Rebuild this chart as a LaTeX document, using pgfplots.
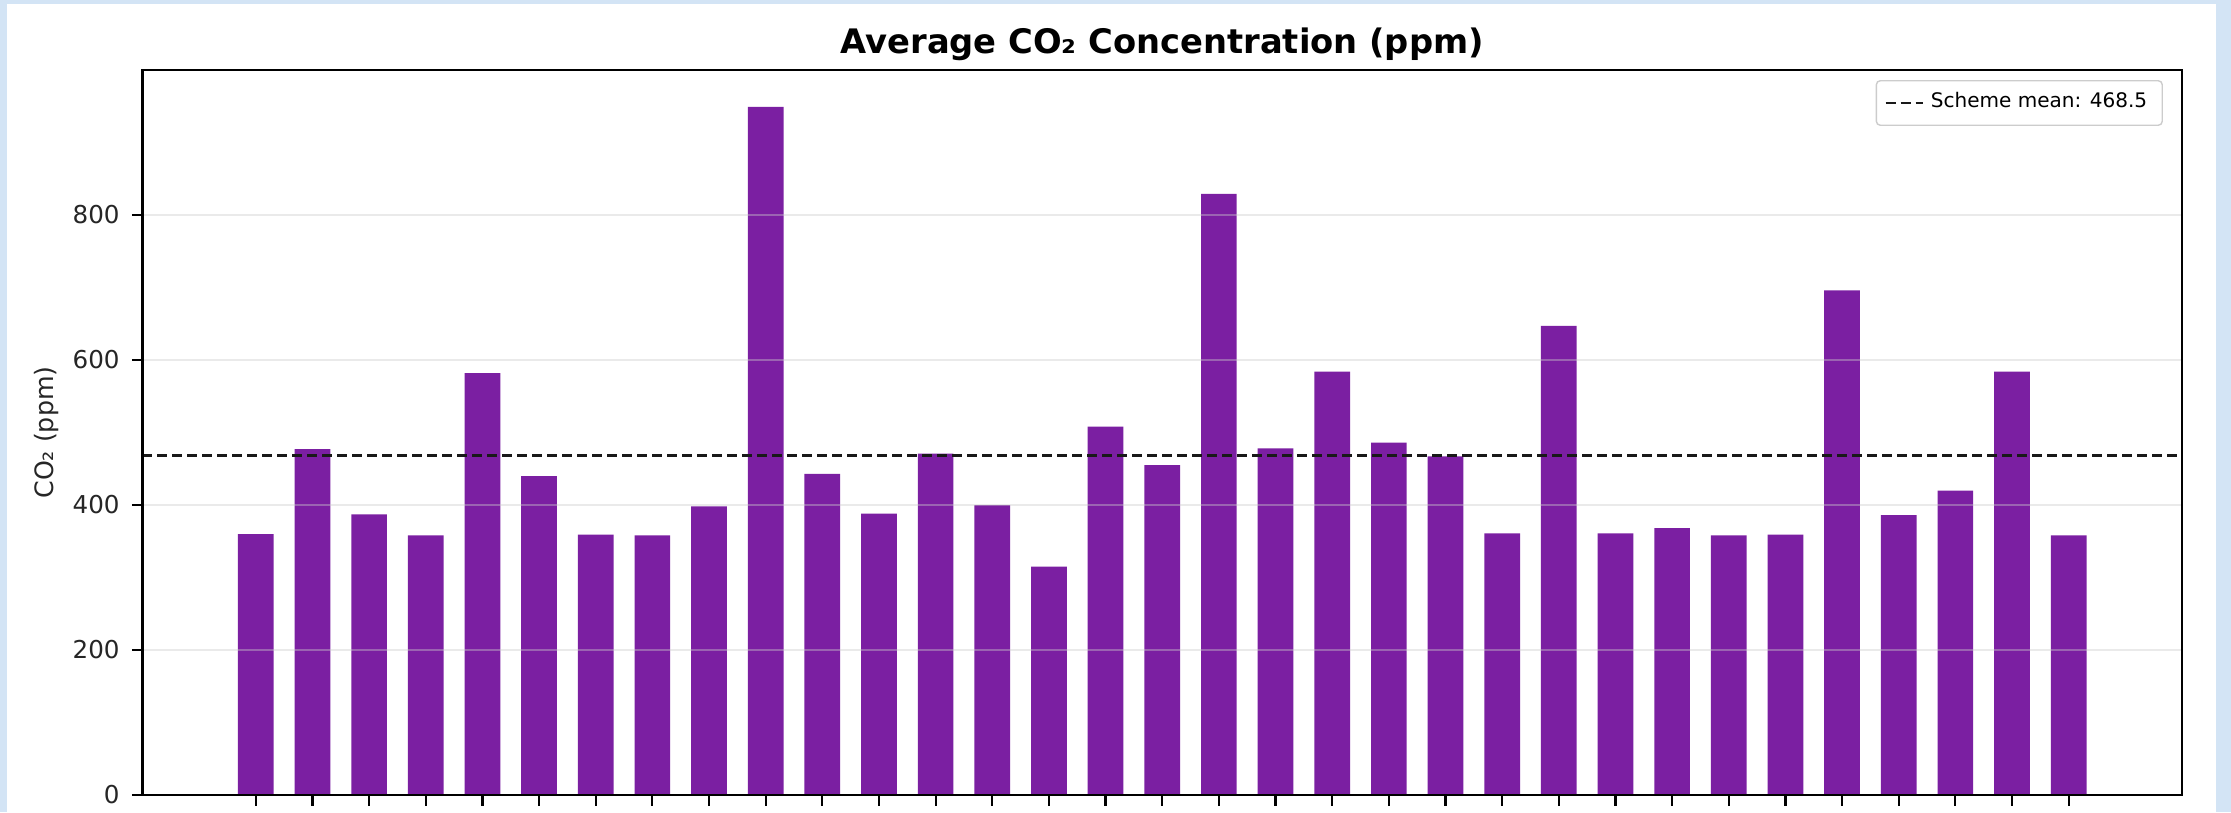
\documentclass[border=0pt]{standalone}
\usepackage{fontspec}
\setmainfont{DejaVu Sans}
\usepackage{pgfplots}
\pgfplotsset{compat=1.18}
\usepackage{pgfplotstable}

\definecolor{bgblue}{RGB}{211,228,245}
\definecolor{barpurple}{RGB}{123,31,162}

% average CO2 per room
\pgfplotstableread{
idx co2
0 360
1 477
2 387
3 358
4 582
5 440
6 359
7 358
8 398
9 949
10 443
11 388
12 471
13 400
14 315
15 508
16 455
17 829
18 478
19 584
20 486
21 467
22 361
23 647
24 361
25 368
26 358
27 359
28 696
29 386
30 420
31 584
32 358
}\co

\begin{document}
\begin{tikzpicture}[x=0.1mm,y=0.1mm]
\useasboundingbox (0,0) rectangle (2231,812);
\fill[bgblue] (0,0) rectangle (2231,812);
\fill[white] (7,0) rectangle (2216,808);
\begin{axis}[
    at={(14.25mm,1.7mm)}, anchor=south west,
    scale only axis, width=203.95mm, height=72.5mm,
    xmin=-2, xmax=34, ymin=0, ymax=1000,
    xtick={0,...,32}, xticklabels={},
    ytick={0,200,400,600,800},
    xtick pos=bottom, ytick pos=left,
    tick align=outside, major tick length=1.05mm,
    tick style={black, line width=0.22mm},
    axis line style={black, line width=0.25mm},
    ymajorgrids, grid style={black!20, line width=0.15mm, opacity=0.4},
    axis on top,
    /pgf/number format/assume math mode=true,
    yticklabel style={font=\fontsize{7}{8.4}\selectfont, text=black!85},
    title={\textbf{Average CO₂ Concentration (ppm)}},
    every axis title shift=0pt,
    title style={at={(rel axis cs:0.5,1)}, anchor=center, yshift=2.6mm,
        font=\fontsize{9.6}{11}\selectfont},
    ylabel={CO₂ (ppm)},
    every axis y label/.style={at={(rel axis cs:-0.047,0.5)}, anchor=center,
        rotate=90, font=\fontsize{7.2}{8.6}\selectfont, text=black!85},
    legend style={at={(rel axis cs:1,1)}, anchor=north east,
        xshift=-1.9mm, yshift=-1.0mm, draw=black!20, rounded corners=0.4mm,
        font=\fontsize{5.7}{6.8}\selectfont, inner xsep=0.8mm, inner ysep=0.5mm},
    legend image code/.code={\draw[#1] (0mm,0mm) -- (3.7mm,0mm);},
]
\addplot[ybar, bar width=0.63, fill=barpurple, draw=none, forget plot]
    table[x=idx, y=co2] {\co};
\addplot[black!90, line width=0.25mm, dash pattern=on 1.0mm off 0.5mm]
    coordinates {(-2,468.5) (34,468.5)};
\addlegendentry{Scheme mean: 468.5}
\end{axis}
\end{tikzpicture}
\end{document}
